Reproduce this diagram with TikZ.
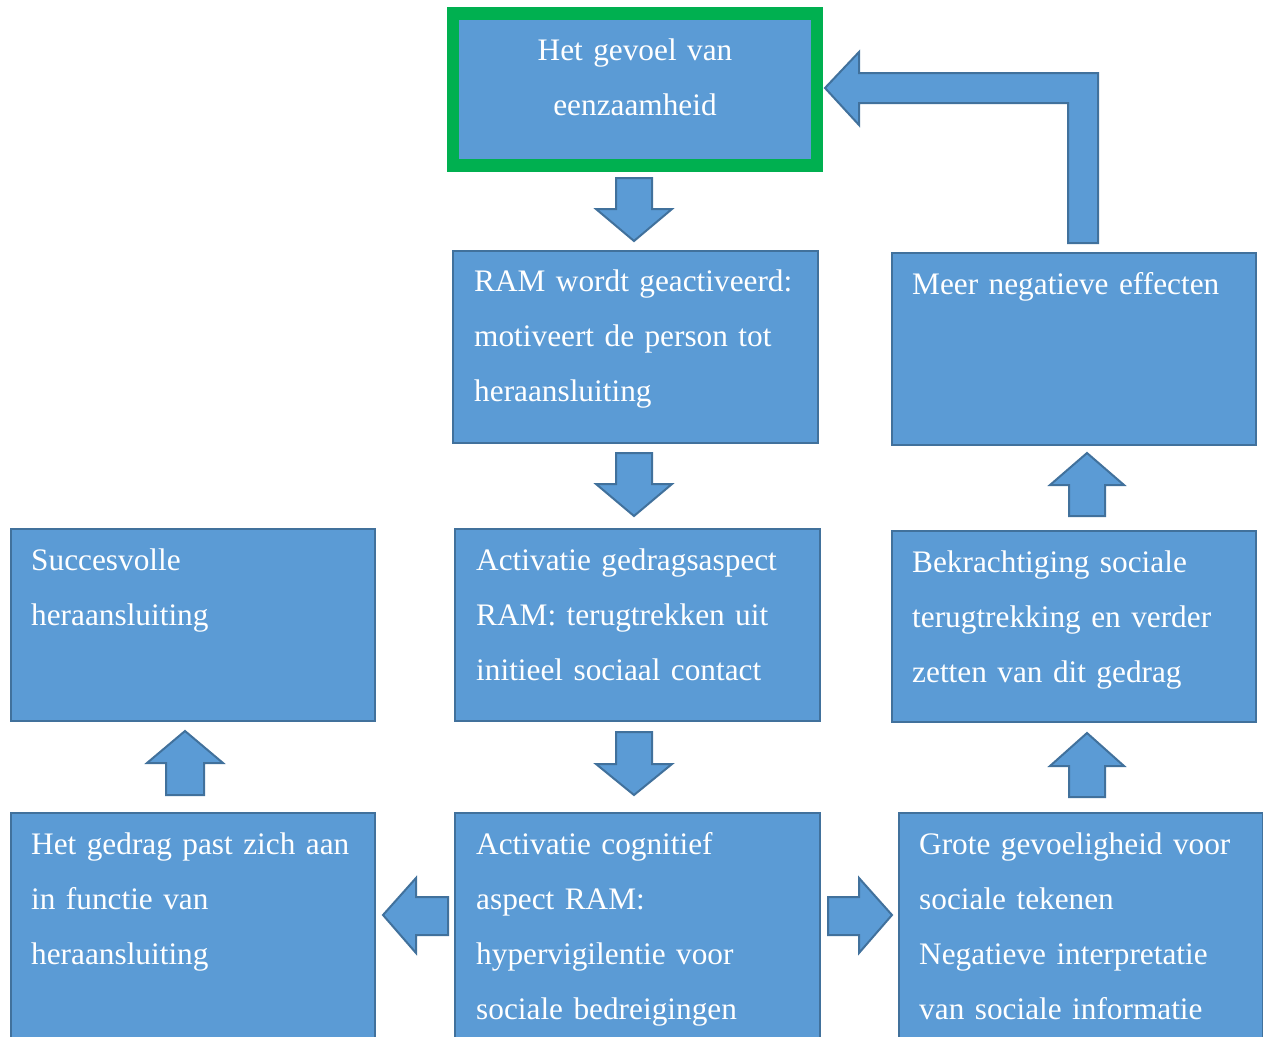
\documentclass[tikz,border=0pt]{standalone}
\usepackage{fontspec}
\setmainfont{Liberation Serif}
\definecolor{boxblue}{HTML}{5B9BD5}
\definecolor{boxedge}{HTML}{41719C}
\definecolor{framegreen}{HTML}{00B050}
\begin{document}
\begin{tikzpicture}[x=1pt,y=-1pt,
  box/.style={draw=boxedge, line width=2pt, fill=boxblue, rectangle, anchor=north west, inner sep=0pt},
  txt/.style={anchor=base west, inner sep=0pt, text width=350pt, align=left, text=white,
    font=\fontsize{31.3}{55.3}\selectfont},
  blockarrow/.style={draw=boxedge, line width=2pt, fill=boxblue, line join=miter}]
\clip (0,0) rectangle (1263,1036);
\fill[white] (0,0) rectangle (1263,1036);
% top box
\node[draw=framegreen, line width=12.5pt, fill=boxblue, rectangle, inner sep=0pt,
  minimum width=364pt, minimum height=152pt] (top) at (635,89.5) {};
\node[anchor=base, inner sep=0pt, text width=350pt, align=center, text=white,
  font=\fontsize{31.3}{55.3}\selectfont] (topT) at (635,60) {Het gevoel van\\eenzaamheid};
% boxes
\node[box, minimum width=365pt, minimum height=192pt] (ram) at (452,250) {};
\node[box, minimum width=365pt, minimum height=192pt] (gedrag) at (454,528) {};
\node[box, minimum width=365pt, minimum height=240pt] (cogn) at (454,812) {};
\node[box, minimum width=364pt, minimum height=192pt] (succes) at (10,528) {};
\node[box, minimum width=364pt, minimum height=240pt] (hetgedrag) at (10,812) {};
\node[box, minimum width=364pt, minimum height=192pt] (meer) at (891,252) {};
\node[box, minimum width=364pt, minimum height=191pt] (bekr) at (891,530) {};
\node[box, minimum width=364pt, minimum height=240pt] (grote) at (898,812) {};
% texts
\node[txt] (ramT) at (474,291) {RAM wordt geactiveerd:\\motiveert de person tot\\heraansluiting};
\node[txt] (gedragT) at (476,570) {Activatie gedragsaspect\\RAM: terugtrekken uit\\initieel sociaal contact};
\node[txt] (cognT) at (476,854) {Activatie cognitief\\aspect RAM:\\hypervigilentie voor\\sociale bedreigingen};
\node[txt] (succesT) at (31,570) {Succesvolle\\heraansluiting};
\node[txt] (hetgedragT) at (31,854) {Het gedrag past zich aan\\in functie van\\heraansluiting};
\node[txt] (meerT) at (912,294) {Meer negatieve effecten};
\node[txt] (bekrT) at (912,572) {Bekrachtiging sociale\\terugtrekking en verder\\zetten van dit gedrag};
\node[txt] (groteT) at (919,854) {Grote gevoeligheid voor\\sociale tekenen\\Negatieve interpretatie\\van sociale informatie};
% block arrows (down)
\draw[blockarrow] (616,178) -- (652,178) -- (652,209) -- (672,209) -- (634,241) -- (596,209) -- (616,209) -- cycle;
\draw[blockarrow] (616,453) -- (652,453) -- (652,484) -- (672,484) -- (634,516) -- (596,484) -- (616,484) -- cycle;
\draw[blockarrow] (616,732) -- (652,732) -- (652,764) -- (672,764) -- (634,795) -- (596,764) -- (616,764) -- cycle;
% up arrows
\draw[blockarrow] (166,795) -- (204,795) -- (204,763) -- (223,763) -- (185,731) -- (147,763) -- (166,763) -- cycle;
\draw[blockarrow] (1069,516) -- (1105,516) -- (1105,485) -- (1124,485) -- (1087,453) -- (1050,485) -- (1069,485) -- cycle;
\draw[blockarrow] (1069,797) -- (1105,797) -- (1105,766) -- (1124,766) -- (1087,733) -- (1050,766) -- (1069,766) -- cycle;
% side arrows
\draw[blockarrow] (448,897) -- (416,897) -- (416,878) -- (383,915) -- (416,953) -- (416,935) -- (448,935) -- cycle;
\draw[blockarrow] (828,897) -- (859,897) -- (859,878) -- (892,915) -- (859,953) -- (859,935) -- (828,935) -- cycle;
% bent arrow
\draw[blockarrow] (1098,243) -- (1098,73) -- (859,73) -- (859,52) -- (825,88) -- (859,125) -- (859,103) -- (1068,103) -- (1068,243) -- cycle;
\end{tikzpicture}
\end{document}
